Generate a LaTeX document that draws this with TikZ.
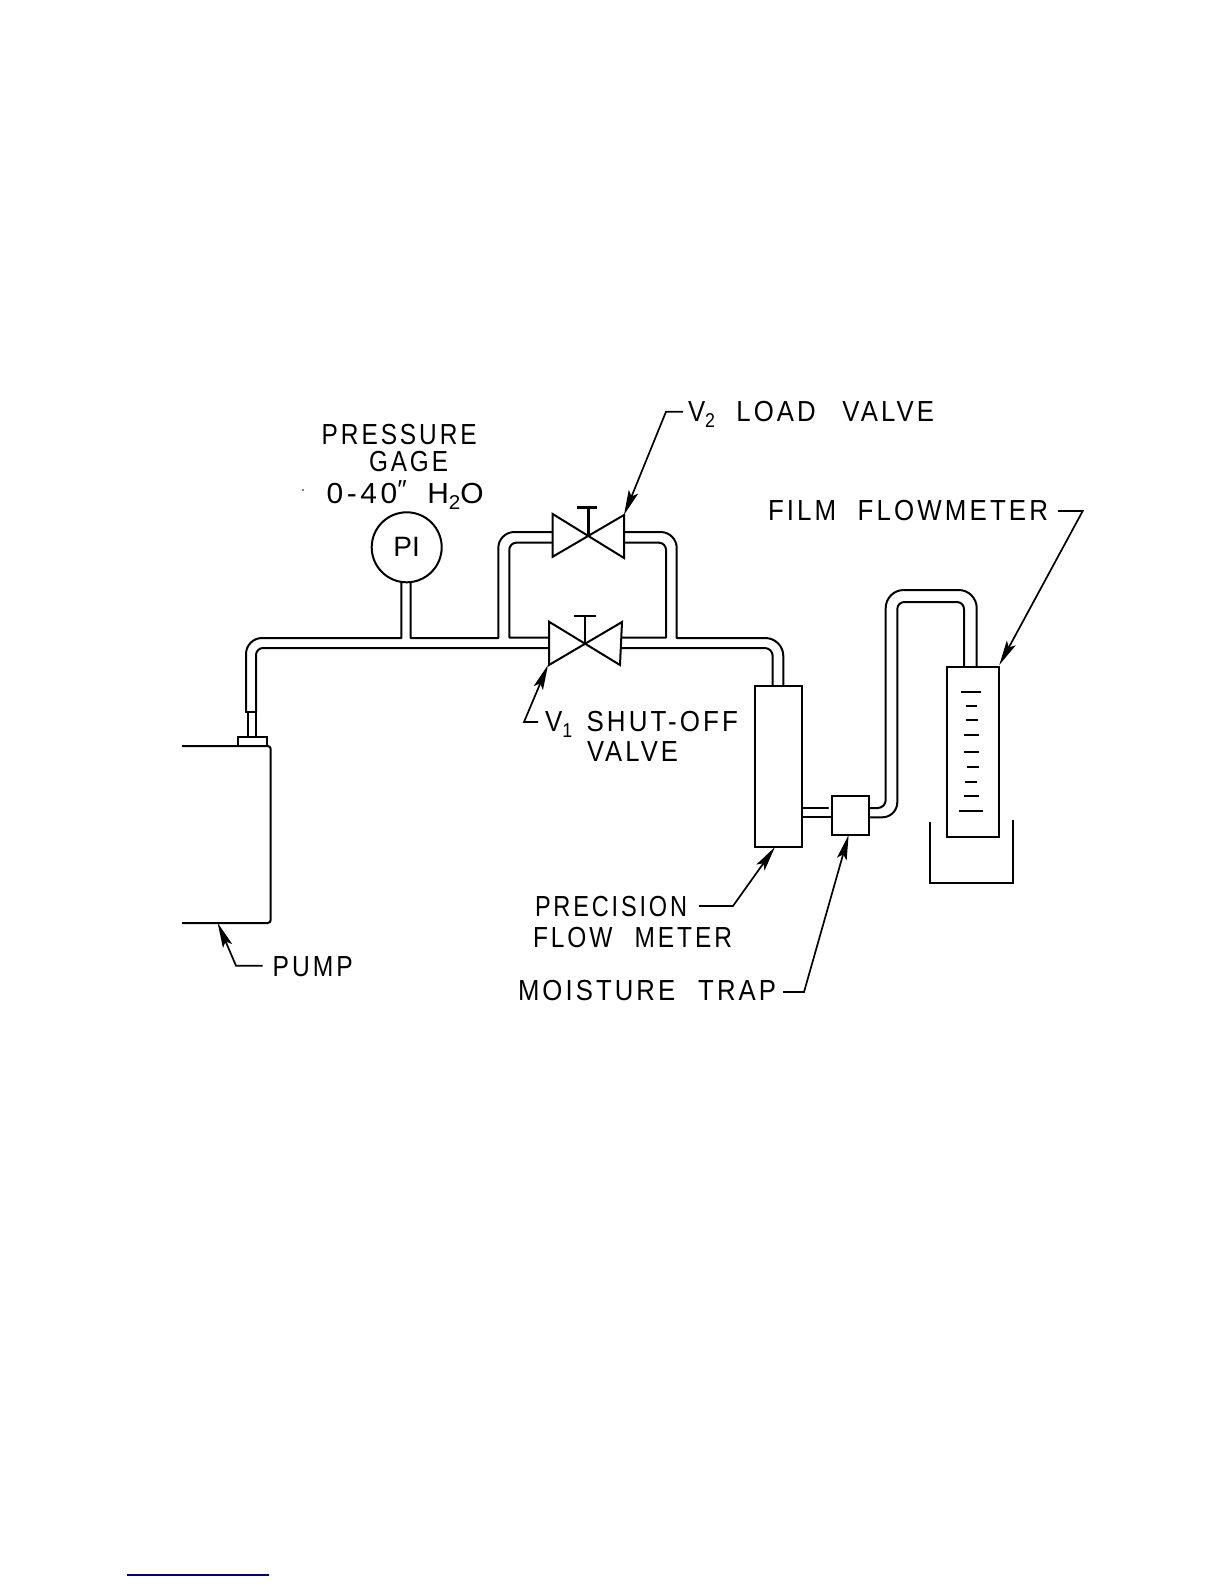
\documentclass[tikz,border=0pt]{standalone}
\usepackage{fontspec}
\usepackage{graphicx}
\setmainfont{Liberation Sans}
\usetikzlibrary{arrows.meta}
\newcommand{\lab}[5]{\node[lbl] (#1) at (#2,#3) {\resizebox{#4pt}{\height}{#5}};}
\newcommand{\subnum}[1]{\raisebox{-6pt}{\fontsize{20}{20}\selectfont\addfontfeatures{LetterSpace=0}#1}}
\tikzset{
  lbl/.style={anchor=base west,inner sep=0pt,outer sep=0pt,font=\fontsize{29}{29}\selectfont\addfontfeatures{LetterSpace=12}},
  pipe/.style={line width=2pt,line cap=round,line join=round},
  part/.style={draw,line width=2pt,fill=white,inner sep=0pt,outer sep=0pt},
  valvebody/.style={line width=2pt,line join=miter,fill=white},
  leader/.style={line width=1.7pt,line join=miter},
  leadertip/.style={leader,-{Stealth[length=25pt,width=10pt,inset=5pt]}},
  tick/.style={line width=1.8pt},
}
\begin{document}
\begin{tikzpicture}[x=1pt,y=-1pt]
\useasboundingbox (0,0) rectangle (1224,1584);

% pump
\draw[line width=2pt,rounded corners=3pt] (182,746) -- (270.7,746) -- (270.7,923) -- (182,923);
\node[part,minimum width=29pt,minimum height=9.5pt] (flange) at (252.2,741.3) {};
\draw[pipe] (248,712) -- (248,737);
\draw[pipe] (256,712) -- (256,737);
\draw[pipe] (246,712) -- (256,712);

% main pipe and bypass, left part
\draw[pipe] (246,712) -- (246,654) .. controls (246,645.2) and (253.2,638) .. (262,638) -- (401.3,638) -- (401.3,580);
\draw[pipe] (410.7,580) -- (410.7,638) -- (498.3,638) -- (498.3,548) .. controls (498.3,539.2) and (505.5,532) .. (514.3,532) -- (552.7,532);
\draw[pipe] (256,712) -- (256,655) .. controls (256,651.2) and (259.2,648) .. (263,648) -- (549,648);
\draw[pipe] (549,637.5) -- (509.3,637.5) -- (509.3,549.7) .. controls (509.3,545.9) and (512.5,542.7) .. (516.3,542.7) -- (552.7,542.7);
% right part
\draw[pipe] (624,532) -- (660.7,532) .. controls (669.5,532) and (676.7,539.2) .. (676.7,548) -- (676.7,638) -- (765.3,638) .. controls (775.2,638) and (783.3,646.1) .. (783.3,656) -- (783.3,685);
\draw[pipe] (624,542.7) -- (659,542.7) .. controls (662.8,542.7) and (666,545.9) .. (666,549.7) -- (666,637.5) -- (622,637.5);
\draw[pipe] (620,648) -- (764.7,648) .. controls (769.1,648) and (772.7,651.6) .. (772.7,656) -- (772.7,685);

% P1
\node[part,circle,minimum size=70pt,font=\fontsize{28}{28}\selectfont] (gauge) at (406.7,547.3) {PI};

% valves
\draw[valvebody] (552.7,514) -- (552.7,556.7) -- (624,515) -- (624,558) -- cycle;
\draw[line width=2.4pt] (588.3,535.7) -- (588.3,507.3);
\draw[line width=2.4pt] (576.7,507.3) -- (597.3,507.3);
\draw[valvebody] (549,621.7) -- (549,665) -- (622,622) -- (620,665) -- cycle;
\draw[line width=2.4pt] (585,643.3) -- (585,615.7);
\draw[line width=2.4pt] (574,615.7) -- (596,615.7);

% precision flow meter and moisture trap
\node[part,minimum width=47.6pt,minimum height=161pt] (meter) at (778.5,766.2) {};
\draw[pipe] (802.3,807.7) -- (828,807.7);
\draw[pipe] (802.3,817.3) -- (831.7,817.3);
\node[part,minimum width=37.6pt,minimum height=39pt] (trap) at (850.5,815.5) {};

% riser
\draw[pipe] (869.3,808) -- (877.7,808) .. controls (882.1,808) and (885.7,804.4) .. (885.7,800) -- (885.7,608) .. controls (885.7,598.1) and (893.8,590) .. (903.7,590) -- (958.7,590) .. controls (968.6,590) and (976.7,598.1) .. (976.7,608) -- (976.7,666);
\draw[pipe] (869.3,817.3) -- (882.3,817.3) .. controls (890.6,817.3) and (897.3,810.6) .. (897.3,802.3) -- (897.3,609) .. controls (897.3,605.2) and (900.5,602) .. (904.3,602) -- (957,602) .. controls (960.8,602) and (964,605.2) .. (964,609) -- (964,666);

% film flowmeter
\node[part,minimum width=52.6pt,minimum height=170pt] (film) at (973,751.7) {};
\foreach \yy/\xa/\xb in {635/662/723,677/677/712,720/677/715,766/673/716,815/673/716,862/680/716,906/675/712,949/672/716,993/656/730}
  \draw[tick] ({740+\xa/3},{480+\yy/3}) -- ({740+\xb/3},{480+\yy/3});
\draw[line width=2pt] (930,822) -- (930,883) -- (1013,883) -- (1013,820);

% labels
\lab{lpress}{321.7}{444}{155}{PRESSURE}
\lab{lgage}{369}{471}{79}{GAGE}
\lab{lrange}{326.7}{503}{157}{0-40\raisebox{5pt}{\fontsize{26}{26}\selectfont ″}\hspace{20pt}H\subnum{2}O}
\lab{lv}{688}{421.7}{246}{V\subnum{2}\hspace{24pt}LOAD\hspace{30pt}VALVE}
\lab{lvi}{545}{731.7}{193}{V\subnum{1}\hspace{16pt}SHUT-OFF}
\lab{lvalve}{587}{761}{91}{VALVE}
\lab{lfilm}{768}{520}{280}{FILM\hspace{24pt}FLOWMETER}
\lab{lprec}{535}{916}{152}{PRECISION}
\lab{lflow}{533}{947}{199}{FLOW\hspace{26pt}METER}
\lab{lmoist}{518}{1000.7}{258}{MOISTURE\hspace{26pt}TRAP}
\lab{lpump}{272.7}{976}{80}{PUMP}

% leaders
\coordinate (v2s) at (683,411.7);
\coordinate (v2k) at (666,411.7);
\coordinate (v2t) at (624,515);
\draw[leadertip] (v2s) -- (v2k) -- (v2t);
\coordinate (v1s) at (538,722);
\coordinate (v1k) at (524,722);
\coordinate (v1t) at (548,665);
\draw[leadertip] (v1s) -- (v1k) -- (v1t);
\coordinate (fs) at (1058,511);
\coordinate (fk) at (1082.7,511);
\coordinate (ft) at (999.3,665);
\draw[leadertip] (fs) -- (fk) -- (ft);
\coordinate (ps) at (699,906);
\coordinate (pk) at (733,906);
\coordinate (pt) at (775,847);
\draw[leadertip] (ps) -- (pk) -- (pt);
\coordinate (ms) at (783,992);
\coordinate (mk) at (804,992);
\coordinate (mt) at (848.6,835);
\draw[leadertip] (ms) -- (mk) -- (mt);
\coordinate (us) at (262.7,965.7);
\coordinate (uk) at (236,965.7);
\coordinate (ut) at (217.7,923);
\draw[leadertip] (us) -- (uk) -- (ut);

% stray marks of the page
\fill (303,490) circle (0.8pt);
\draw[line width=1.6pt,color={rgb,255:red,0;green,0;blue,128}] (127,1575) -- (269,1575);
\end{tikzpicture}
\end{document}
